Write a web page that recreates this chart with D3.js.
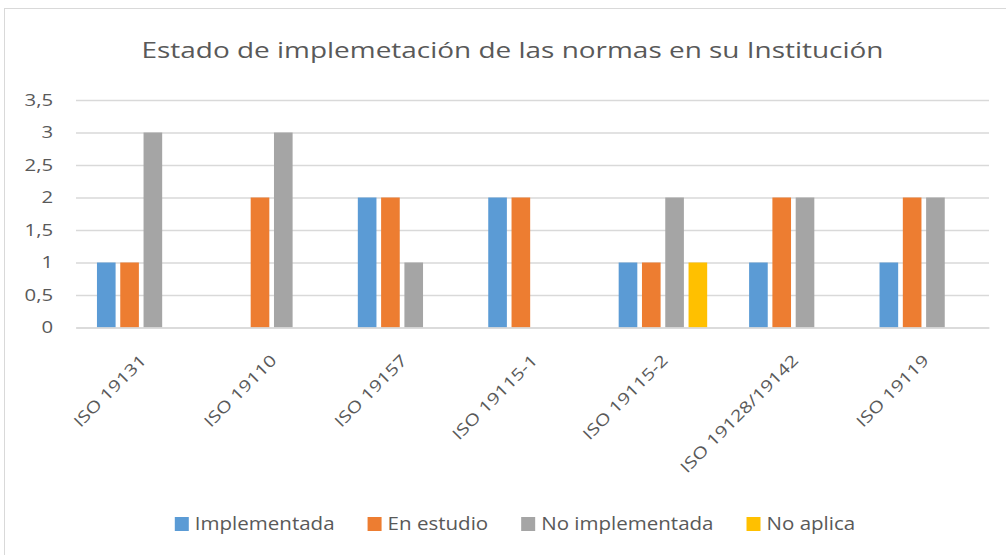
<!DOCTYPE html>
<html><head><meta charset="utf-8">
<script src="https://cdn.jsdelivr.net/npm/d3@7/dist/d3.min.js"></script>
<style>body{margin:0;background:#fff;}svg{display:block;font-family:"Open Sans",sans-serif;}</style>
</head><body><svg id="c" width="1006" height="555"></svg>
<script>
const categories = ["ISO 19131","ISO 19110","ISO 19157","ISO 19115-1","ISO 19115-2","ISO 19128/19142","ISO 19119"];
const seriesNames = ["Implementada","En estudio","No implementada","No aplica"];
const implementada = [1,0,2,2,1,1,1];
const enEstudio = [1,2,2,2,1,2,2];
const noImplementada = [3,3,1,0,2,2,2];
const noAplica = [0,0,0,0,1,0,0];
const yTicks = [0,0.5,1,1.5,2,2.5,3,3.5];
const colors = ["#5B9BD5","#ED7D31","#A5A5A5","#FFC000"];
const titleText = "Estado de implemetación de las normas en su Institución";

const seriesValues = [implementada, enEstudio, noImplementada, noAplica];
const svg = d3.select("#c");
const M = {left:76, right:989, top:100, bottom:327.5};
const textColor = "#595959", gridColor = "#d9d9d9";

function stretch(sel, f){
  sel.each(function(){
    const n = this; const w = n.getComputedTextLength();
    d3.select(n).attr("textLength", w*f).attr("lengthAdjust","spacingAndGlyphs");
  });
}

svg.append("rect").attr("x",4.5).attr("y",8.5).attr("width",1100).attr("height",600)
  .attr("fill","#fff").attr("stroke",gridColor);

const x0 = d3.scaleBand().domain(categories).range([M.left, M.right]).paddingInner(0).paddingOuter(0);
const x1 = d3.scaleBand().domain(seriesNames).range([0, x0.bandwidth()]).paddingInner(0.2).paddingOuter(0.9);
const y = d3.scaleLinear().domain([0,3.5]).range([M.bottom, M.top]);
const loc = d3.formatLocale({decimal:",", thousands:".", grouping:[3], currency:["","€"]});
const fmt = loc.format("~g");

// grid
const yAxis = d3.axisLeft(y).tickValues(yTicks).tickSize(-(M.right-M.left)).tickFormat(fmt).tickPadding(23);
const gy = svg.append("g").attr("transform",`translate(${M.left},0)`).call(yAxis);
gy.select(".domain").remove();
gy.selectAll(".tick line").attr("stroke",gridColor).attr("stroke-width",1.3);
gy.selectAll(".tick text").attr("fill",textColor).style("font-size","16px").style("font-family","Open Sans")
  .call(stretch, 1.27);

// bars
const data = [];
categories.forEach((c,i)=>seriesNames.forEach((s,j)=>data.push({c,s,j,v:seriesValues[j][i]})));
svg.append("g").selectAll("rect").data(data.filter(d=>d.v>0)).join("rect")
  .attr("x",d=>x0(d.c)+x1(d.s)).attr("width",x1.bandwidth())
  .attr("y",d=>y(d.v)).attr("height",d=>y(0)-y(d.v))
  .attr("fill",d=>colors[d.j]);

// x axis
const xAxis = d3.axisBottom(x0).tickSize(0).tickPadding(0);
const gx = svg.append("g").attr("transform",`translate(0,${M.bottom})`).call(xAxis);
gx.select(".domain").attr("stroke",gridColor).attr("stroke-width",1.3);
gx.selectAll(".tick text").attr("fill",textColor).style("font-size","16px").style("font-family","Open Sans")
  .attr("text-anchor","end").attr("dy",0).attr("y",0)
  .attr("transform","translate(6,34) rotate(-45)")
  .call(stretch, 1.25);

// title
svg.append("text").attr("x",512.5).attr("y",58).attr("text-anchor","middle")
  .attr("fill",textColor).style("font-size","22px").text(titleText)
  .call(stretch, 1.27);

// legend
const lg = svg.append("g");
const sq = 14, gapT = 6, gapItem = 33;
let cx = 0;
seriesNames.forEach((s,j)=>{
  const g = lg.append("g");
  g.append("rect").attr("width",sq).attr("height",sq).attr("y",-13).attr("fill",colors[j]);
  const t = g.append("text").attr("x",sq+gapT).attr("y",0).attr("fill",textColor).style("font-size","18px").text(s)
    .call(stretch, 1.14);
  const w = +t.attr("textLength");
  g.attr("transform",`translate(${cx},0)`);
  cx += sq+gapT+w+gapItem;
});
const total = cx-gapItem;
lg.attr("transform",`translate(${515-total/2},530)`);
</script></body></html>
